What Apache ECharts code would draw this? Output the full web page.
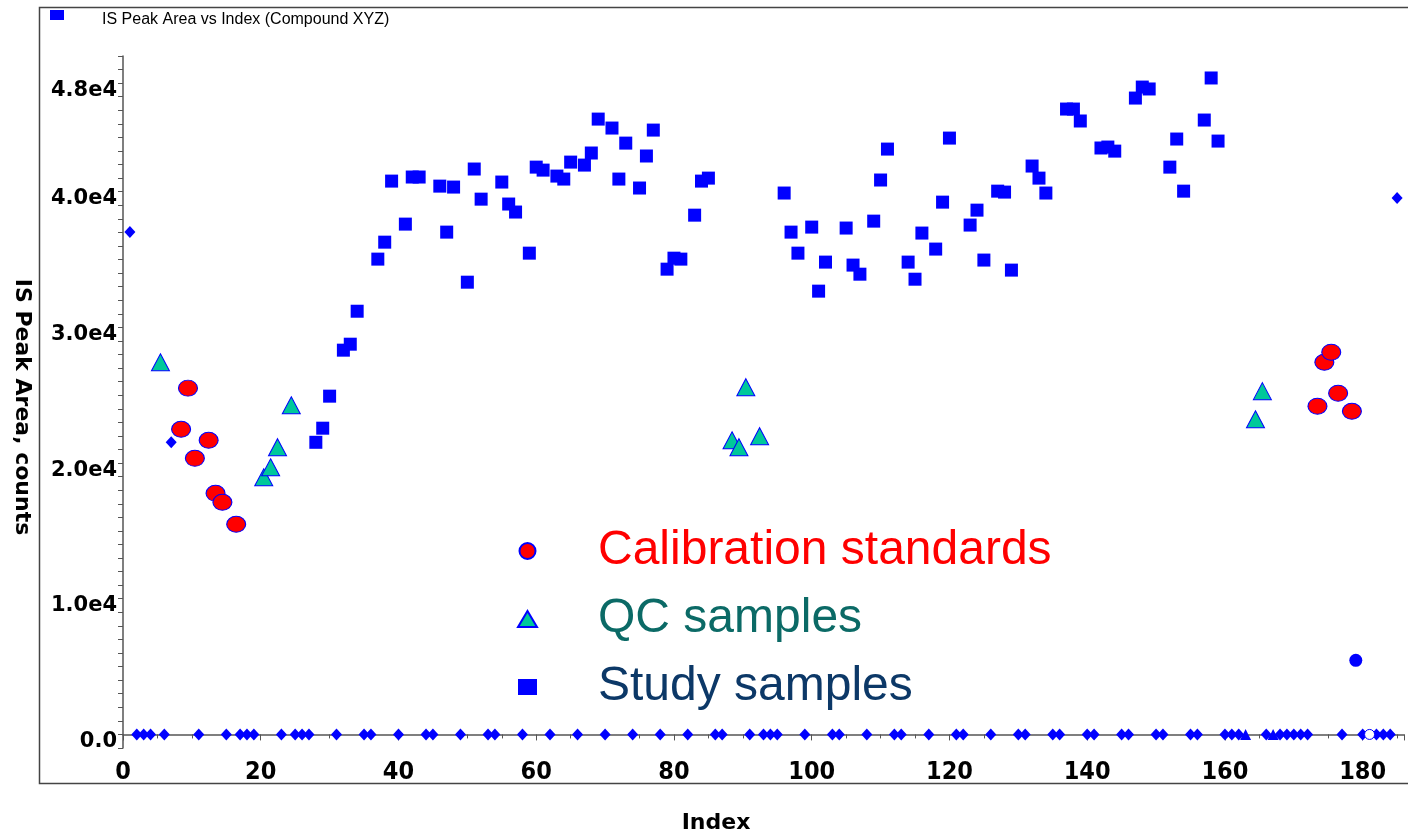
<!DOCTYPE html>
<html>
<head>
<meta charset="utf-8">
<script src="https://cdn.jsdelivr.net/npm/echarts@6/dist/echarts.min.js"></script>
<style>
  html, body { margin: 0; padding: 0; background: #fff; }
  #chart { width: 1408px; height: 835px; }
</style>
</head>
<body>
<div id="chart"></div>
<script>
// Injection index of each sample and its internal-standard peak area (counts)
const studyIdx = [28,29,30,32,33,34,37,38,39,41,42,43,46,47,48,50,51,52,55,56,57,59,60,61,63,64,65,67,68,69,71,72,73,75,76,77,79,80,81,83,84,85,96,97,98,100,101,102,105,106,107,109,110,111,114,115,116,118,119,120,123,124,125,127,128,129,132,133,134,137,138,139,142,143,144,147,148,149,152,153,154,157,158,159];
const studyArea = [21530,22570,24930,28320,28760,31190,35030,36280,40780,37610,41080,41080,40410,37020,40340,33330,41670,39450,40710,39090,38500,35470,41810,41590,41150,40930,42180,41960,42850,45350,44690,40930,43580,40270,42630,44540,34290,35100,35030,38270,40780,41000,39900,37020,35470,37390,32670,34810,37320,34590,33920,37830,40860,43140,34810,33550,36950,35770,39230,43950,37540,38640,34960,40040,39970,34220,41890,41000,39900,46090,46090,45210,43220,43290,42990,46900,47710,47570,41810,43880,40040,45280,48380,43730];

const calIdx = [8,9,10,12,13,14,16,173,174,175,176,178];
const calArea = [22490,25520,20350,21680,17770,17110,15490,24190,27430,28170,25150,23820];

const qcIdx = [5,20,21,22,24,88,89,90,92,164,165];
const qcArea = [27430,18950,19690,21170,24260,21680,21170,25590,21980,23230,25300];

// Blanks (diamonds)
const blankIdx = [1,2,3,4,6,7,11,15,17,18,19,23,25,26,27,31,35,36,40,44,45,49,53,54,58,62,66,70,74,78,82,86,87,91,93,94,95,99,103,104,108,112,113,117,121,122,126,130,131,135,136,140,141,145,146,150,151,155,156,160,161,162,166,168,169,170,171,172,177,180,182,183,184,185];
const blankArea = [37020,0,0,0,0,21530,0,0,0,0,0,0,0,0,0,0,0,0,0,0,0,0,0,0,0,0,0,0,0,0,0,0,0,0,0,0,0,0,0,0,0,0,0,0,0,0,0,0,0,0,0,0,0,0,0,0,0,0,0,0,0,0,0,0,0,0,0,0,0,0,0,0,0,39530];

// Other sample types
const zeroTriIdx = [163,167];
const zeroTriArea = [0,0];
const dotIdx = [179];
const dotArea = [5460];
const openIdx = [181];
const openArea = [0];

// Axis tick labels
const yTickLabels = {0:'0.0', 10000:'1.0e4', 20000:'2.0e4', 30000:'3.0e4', 40000:'4.0e4', 48000:'4.8e4'};
const xTickStep = 20;

const pairs = (xs, ys) => xs.map((x, i) => [x, ys[i]]);

const BLUE = '#0000ff';
const chart = echarts.init(document.getElementById('chart'), null, { renderer: 'canvas' });

chart.setOption({
  backgroundColor: '#ffffff',
  animation: false,
  title: {
    text: 'IS Peak Area vs Index (Compound XYZ)',
    left: 102, top: 12, padding: 0,
    textStyle: { fontFamily: 'Liberation Sans, Arial, sans-serif', fontSize: 16, fontWeight: 'normal', color: '#000' }
  },
  graphic: [
    { type: 'rect', shape: { x: 39.5, y: 7.5, width: 1400, height: 776 }, style: { fill: 'none', stroke: '#444', lineWidth: 1.5 }, silent: true, z: -1 },
    { type: 'rect', shape: { x: 50, y: 10, width: 14, height: 10 }, style: { fill: BLUE }, silent: true },
    { type: 'text', x: 22, y: 407, rotation: -Math.PI / 2,
      style: { text: 'IS Peak Area, counts', fontFamily: 'DejaVu Sans, sans-serif', fontWeight: 'bold', fontSize: 22, fill: '#000', align: 'center', verticalAlign: 'middle' } },
    { type: 'text', x: 716, y: 823,
      style: { text: 'Index', fontFamily: 'DejaVu Sans, sans-serif', fontWeight: 'bold', fontSize: 22, fill: '#000', align: 'center', verticalAlign: 'middle' } }
  ],
  legend: {
    orient: 'vertical', left: 512, top: 522,
    itemWidth: 19, itemHeight: 16, itemGap: 20,
    selectedMode: false,
    textStyle: { fontFamily: 'Liberation Sans, Arial, sans-serif', fontSize: 48, padding: [0, 0, 0, 56] },
    data: [
      { name: 'Calibration standards', textStyle: { color: '#ff0000' } },
      { name: 'QC samples', textStyle: { color: '#0b6a66' } },
      { name: 'Study samples', textStyle: { color: '#0c3867' } }
    ]
  },
  grid: { left: 123, right: 4, top: 56, bottom: 87 },
  xAxis: {
    type: 'value', min: 0, max: 186, interval: xTickStep,
    splitLine: { show: false },
    axisLine: { lineStyle: { color: '#555', width: 1.5 } },
    axisTick: { lineStyle: { color: '#555' }, length: 6 },
    minorTick: { show: true, splitNumber: 4, length: 4, lineStyle: { color: '#555' } },
    axisLabel: {
      margin: 12, color: '#000', fontSize: 25, fontWeight: 'bold',
      fontFamily: 'DejaVu Sans Condensed, DejaVu Sans, sans-serif',
      showMaxLabel: false,
      formatter: v => (v % xTickStep === 0 ? String(v) : '')
    }
  },
  yAxis: {
    type: 'value', min: -1000, max: 50000, interval: 1000,
    splitLine: { show: false },
    axisLine: { show: true, lineStyle: { color: '#555', width: 1.5 } },
    axisTick: { show: true, length: 5, lineStyle: { color: '#555' } },
    axisLabel: {
      margin: 6, color: '#000', fontSize: 21, fontWeight: 'bold',
      fontFamily: 'DejaVu Sans, sans-serif',
      verticalAlign: 'top', lineHeight: 14,
      formatter: v => (yTickLabels[v] !== undefined ? yTickLabels[v] : '')
    }
  },
  series: [
    {
      name: 'Blank', type: 'scatter', symbol: 'diamond', symbolSize: [11, 12],
      itemStyle: { color: BLUE, opacity: 1 }, data: pairs(blankIdx, blankArea), z: 2
    },
    {
      name: 'Blank QC', type: 'scatter', symbol: 'triangle', symbolSize: [11, 11],
      itemStyle: { color: BLUE, opacity: 1 }, data: pairs(zeroTriIdx, zeroTriArea), z: 2
    },
    {
      name: 'Solvent', type: 'scatter', symbol: 'circle', symbolSize: 13,
      itemStyle: { color: BLUE, opacity: 1 }, data: pairs(dotIdx, dotArea), z: 2
    },
    {
      name: 'Double blank', type: 'scatter', symbol: 'circle', symbolSize: 10,
      itemStyle: { color: '#ffffff', borderColor: BLUE, borderWidth: 1, opacity: 1 }, data: pairs(openIdx, openArea), z: 3
    },
    {
      name: 'Study samples', type: 'scatter', symbol: 'rect', symbolSize: 13,
      itemStyle: { color: BLUE, opacity: 1 },
      data: pairs(studyIdx, studyArea), z: 3
    },
    {
      name: 'QC samples', type: 'scatter', symbol: 'triangle', symbolSize: [18, 17], symbolOffset: [3, 0],
      itemStyle: { color: '#00c89a', borderColor: BLUE, borderWidth: 1, opacity: 1 },
      data: pairs(qcIdx, qcArea), z: 4
    },
    {
      name: 'Calibration standards', type: 'scatter', symbol: 'circle', symbolSize: [19, 16], symbolOffset: [3, 0],
      itemStyle: { color: '#ff0000', borderColor: BLUE, borderWidth: 1, opacity: 1 },
      data: pairs(calIdx, calArea), z: 5
    }
  ]
});
</script>
</body>
</html>
